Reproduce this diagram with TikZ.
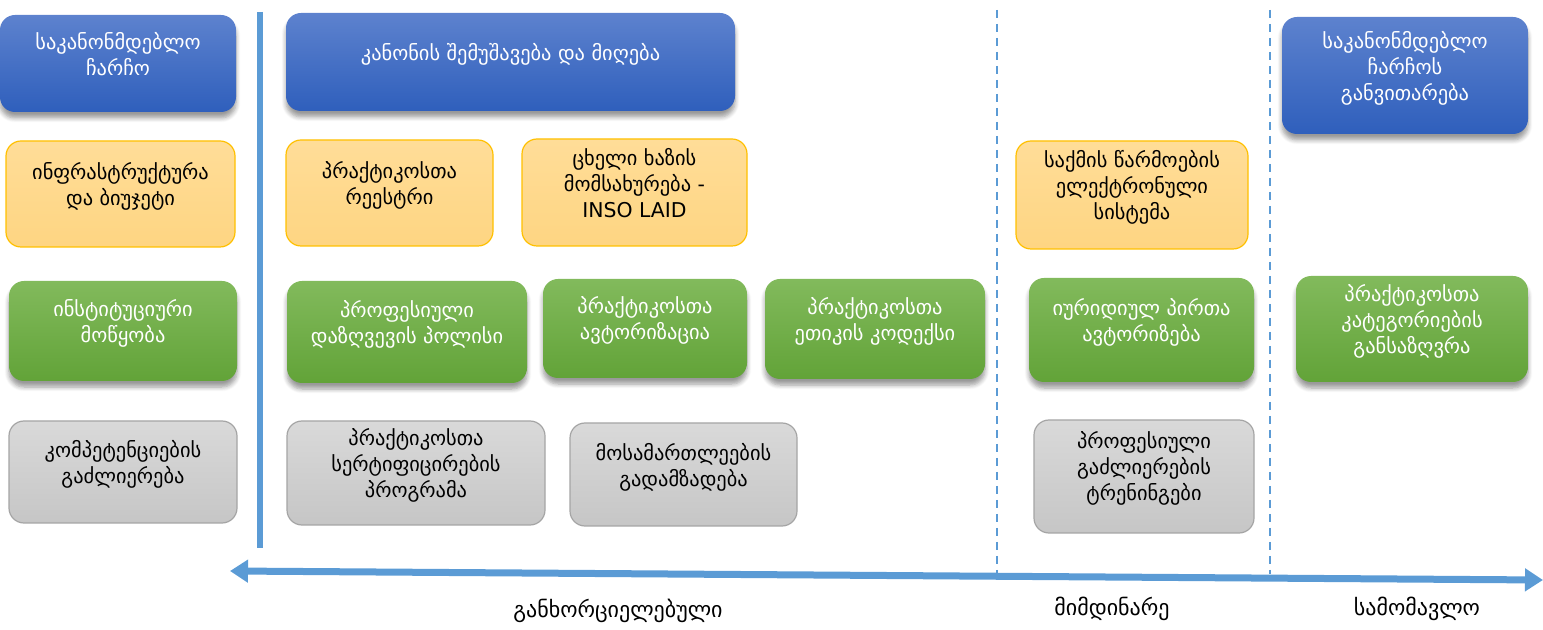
\documentclass[tikz,border=0pt]{standalone}
\usepackage{fontspec}
\setmainfont{DejaVu Sans}
\usetikzlibrary{arrows.meta,shadows.blur}

\definecolor{axisblue}{RGB}{91,155,213}
\definecolor{lawtop}{RGB}{93,130,206}
\definecolor{lawbot}{RGB}{47,95,188}
\definecolor{greentop}{RGB}{130,186,92}
\definecolor{greenbot}{RGB}{98,163,56}
\definecolor{yellowtop}{RGB}{255,221,152}
\definecolor{yellowbot}{RGB}{254,213,130}
\definecolor{yellowline}{RGB}{255,192,0}
\definecolor{graytop}{RGB}{217,217,217}
\definecolor{graybot}{RGB}{198,198,198}
\definecolor{grayline}{RGB}{165,165,165}

\begin{document}
\begin{tikzpicture}[
    x=0.5pt, y=-0.5pt,
    every node/.style={font=\fontsize{10.2}{13}\selectfont, align=center},
    dim/.style 2 args={minimum width=#1*0.5pt, minimum height=#2*0.5pt},
    card/.style={rounded corners=7.5pt, inner sep=2pt, text depth=10pt},
    lifted/.style={blur shadow={shadow xshift=0pt, shadow yshift=-3pt,
        shadow blur steps=6, shadow blur extra rounding=2pt, shadow opacity=40}},
    lawbox/.style={card, lifted, top color=lawtop, bottom color=lawbot, text=white},
    toolbox/.style={card, draw=yellowline, line width=0.6pt,
        top color=yellowtop, bottom color=yellowbot},
    orgbox/.style={card, lifted, top color=greentop, bottom color=greenbot, text=white},
    skillbox/.style={card, draw=grayline, line width=0.6pt,
        top color=graytop, bottom color=graybot},
    divider/.style={axisblue, line width=0.75pt, dash pattern=on 4pt off 3pt},
    phase/.style={font=\fontsize{11}{13}\selectfont}
  ]
  \useasboundingbox (0,0) rectangle (1543,630);

  % legal framework row
  \node[lawbox, dim={236}{97}] (lawframe) at (118,63.5) {საკანონმდებლო\\ჩარჩო};
  \node[lawbox, dim={449}{98}] (lawdraft) at (510.5,62) {კანონის შემუშავება და მიღება};
  \node[lawbox, dim={246}{117}] (lawnext) at (1405,75.5) {საკანონმდებლო\\ჩარჩოს\\განვითარება};

  % infrastructure row
  \node[toolbox, dim={229}{106}] (infra) at (120.5,194) {ინფრასტრუქტურა\\და ბიუჯეტი};
  \node[toolbox, dim={207}{106}] (registry) at (389.5,193) {პრაქტიკოსთა\\რეესტრი};
  \node[toolbox, dim={225}{107}] (hotline) at (634.5,192.5) {ცხელი ხაზის\\მომსახურება -\\INSO LAID};
  \node[toolbox, dim={232}{108}] (ecase) at (1132,195) {საქმის წარმოების\\ელექტრონული\\სისტემა};

  % institutional row
  \node[orgbox, dim={228}{100}] (inst) at (123,331) {ინსტიტუციური\\მოწყობა};
  \node[orgbox, dim={240}{102}] (insurance) at (407,332) {პროფესიული\\დაზღვევის პოლისი};
  \node[orgbox, dim={204}{99}] (authorize) at (645,328.5) {პრაქტიკოსთა\\ავტორიზაცია};
  \node[orgbox, dim={220}{100}] (ethics) at (875,329) {პრაქტიკოსთა\\ეთიკის კოდექსი};
  \node[orgbox, dim={225}{104}] (legalent) at (1141.5,330) {იურიდიულ პირთა\\ავტორიზება};
  \node[orgbox, dim={232}{106}] (categories) at (1412,329) {პრაქტიკოსთა\\კატეგორიების\\განსაზღვრა};

  % competence row
  \node[skillbox, dim={228}{102}] (compet) at (123,472) {კომპეტენციების\\გაძლიერება};
  \node[skillbox, dim={258}{104}] (certif) at (416,473) {პრაქტიკოსთა\\სერტიფიცირების\\პროგრამა};
  \node[skillbox, dim={227}{103}] (judges) at (683.5,474.5) {მოსამართლეების\\გადამზადება};
  \node[skillbox, dim={220}{113}] (trainings) at (1144,476.5) {პროფესიული\\გაძლიერების\\ტრენინგები};

  % time axis
  \coordinate (sepTop) at (260,12);
  \coordinate (sepBot) at (260,548);
  \coordinate (nowTop) at (997,10);
  \coordinate (nowBot) at (997,574);
  \coordinate (nextTop) at (1270,10);
  \coordinate (nextBot) at (1270,574);
  \coordinate (past) at (230,571);
  \coordinate (future) at (1543,580);

  \draw[axisblue, line width=3pt] (sepTop) -- (sepBot);
  \draw[divider] (nowTop) -- (nowBot);
  \draw[divider] (nextTop) -- (nextBot);
  \draw[axisblue, line width=3.5pt,
        {Triangle[width=11pt,length=9pt]}-{Triangle[width=11pt,length=9pt]}]
    (past) -- (future);

  \node[phase] (done) at (618,611) {განხორციელებული};
  \node[phase] (ongoing) at (1112,609) {მიმდინარე};
  \node[phase] (planned) at (1417,609) {სამომავლო};

\end{tikzpicture}
\end{document}
